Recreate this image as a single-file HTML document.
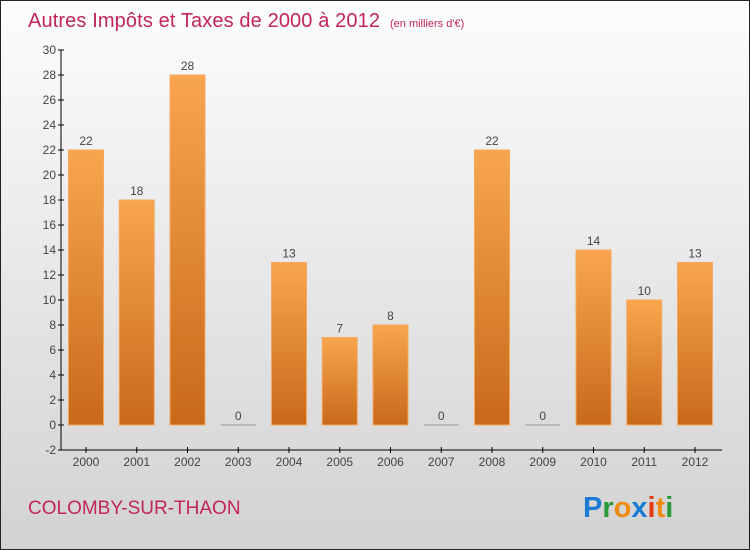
<!DOCTYPE html>
<html><head><meta charset="utf-8"><style>
body{margin:0;}
svg{display:block;font-family:"Liberation Sans",sans-serif;}
</style></head><body>
<svg id="c" width="750" height="550" xmlns="http://www.w3.org/2000/svg">
<defs>
<linearGradient id="bg" x1="0" y1="0" x2="0" y2="1"><stop offset="0" stop-color="#fdfdfd"/><stop offset="1" stop-color="#d2d2d2"/></linearGradient>
<linearGradient id="bar" x1="0" y1="0" x2="0" y2="1"><stop offset="0" stop-color="#f8a64e"/><stop offset="1" stop-color="#c8691a"/></linearGradient>
</defs>
<rect x="0.5" y="0.5" width="749" height="549" fill="url(#bg)" stroke="#222"/>
<text x="28" y="27" font-size="20" fill="#c0265a" textLength="352">Autres Impôts et Taxes de 2000 à 2012</text>
<text x="390" y="27" font-size="11" fill="#c0265a">(en milliers d'€)</text>
<g id="axes"></g>
<g id="bars"></g>
<text x="28" y="514" font-size="19" fill="#c0265a">COLOMBY-SUR-THAON</text>
<text x="583" y="517" font-size="29" font-weight="bold"><tspan fill="#1a7ad4">P</tspan><tspan fill="#2a9a3a">r</tspan><tspan fill="#f08a10">o</tspan><tspan fill="#1a7ad4">x</tspan><tspan fill="#e83a10">i</tspan><tspan fill="#f08a10">t</tspan><tspan fill="#2a9a3a">i</tspan></text>
</svg>
<script>
const years=["2000","2001","2002","2003","2004","2005","2006","2007","2008","2009","2010","2011","2012"];
const values=[22,18,28,0,13,7,8,0,22,0,14,10,13];
const ticks=[-2,0,2,4,6,8,10,12,14,16,18,20,22,24,26,28,30];
const NS="http://www.w3.org/2000/svg";
const y=v=>425-v*12.5;
const x=i=>86+i*50.75;
function mk(t,a,p){const e=document.createElementNS(NS,t);for(const k in a)e.setAttribute(k,a[k]);p.appendChild(e);return e;}
const ax=document.getElementById('axes'),bg=document.getElementById('bars');
const yl=mk('line',{x1:61,y1:50,x2:61,y2:450,stroke:'#000'},ax);


const xl=mk('line',{x1:61,y1:450,x2:722,y2:450,stroke:'#000'},ax);


ticks.forEach(t=>{
 mk('line',{x1:58,x2:64,y1:y(t),y2:y(t),stroke:'#000'},ax);
 const tx=mk('text',{x:56,y:y(t)+4,'text-anchor':'end','font-size':12,fill:'#444'},ax);
 tx.textContent=t;
 
 
});
years.forEach((yr,i)=>{
 const v=values[i];
 mk('line',{x1:x(i),x2:x(i),y1:447,y2:453,stroke:'#000'},ax);
 const tl=mk('text',{x:x(i),y:466,'text-anchor':'middle','font-size':12,fill:'#444'},ax);
 tl.textContent=yr;
 
 
 const h=Math.max(v*12.5,1);
 const r=mk('rect',{x:x(i)-17.5,y:y(v)-(v===0?0.5:0),width:35,height:h,fill:v===0?'#999':'url(#bar)',stroke:v===0?'none':'#f4a860','stroke-width':1},bg);
 
 
 const l=mk('text',{x:x(i),y:y(v)-5,'text-anchor':'middle','font-size':12,fill:'#444'},bg);
 l.textContent=v;
 
 
});
</script>
</body></html>
